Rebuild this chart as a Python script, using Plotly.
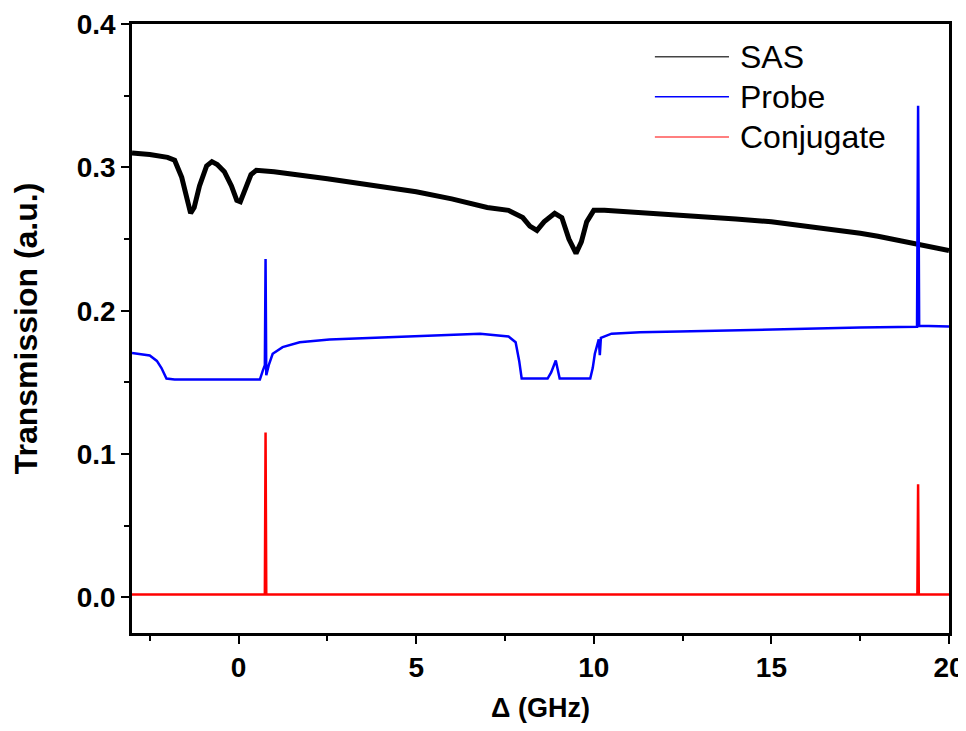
import plotly.graph_objects as go

# ---- data ----
sas_x = [-3.0, -2.5, -2.0, -1.8, -1.6, -1.45, -1.35, -1.25, -1.1, -0.9, -0.75, -0.6,
         -0.4, -0.2, -0.05, 0.05, 0.2, 0.35, 0.5, 1.0, 2.5, 4.0, 5.0, 6.0, 7.0, 7.6,
         8.0, 8.2, 8.4, 8.6, 8.9, 9.1, 9.3, 9.5, 9.65, 9.8, 10.0, 10.3, 11.0, 12.0,
         13.0, 14.0, 15.0, 16.0, 17.0, 17.5, 18.0, 19.0, 20.0]
sas_y = [0.310, 0.309, 0.307, 0.305, 0.293, 0.276, 0.268, 0.272, 0.287, 0.301, 0.304, 0.302,
         0.297, 0.287, 0.277, 0.276, 0.285, 0.295, 0.298, 0.297, 0.292, 0.287, 0.283, 0.278, 0.272, 0.270,
         0.265, 0.259, 0.256, 0.262, 0.268, 0.265, 0.250, 0.240, 0.248, 0.262, 0.270, 0.270, 0.269, 0.267,
         0.266, 0.264, 0.262, 0.259, 0.256, 0.254, 0.252, 0.247, 0.242]

probe_x = [-3.0, -2.5, -2.3, -2.17, -2.03, -1.8, 0.0, 0.6, 0.68, 0.74, 0.76, 0.78, 0.85,
           0.96, 1.24, 1.72, 2.56, 3.97, 5.38, 6.8, 7.6, 7.8, 7.9, 7.97, 8.7, 8.8, 8.93,
           9.04, 9.9, 9.97, 10.03, 10.14, 10.17, 10.2, 10.5, 11.3, 12.4, 15.0, 17.5, 19.1,
           19.13, 19.16, 20.0]
probe_y = [0.1705, 0.1688, 0.165, 0.160, 0.1527, 0.152, 0.152, 0.152, 0.158, 0.162, 0.236, 0.155, 0.162,
           0.170, 0.1746, 0.178, 0.180, 0.1813, 0.1827, 0.184, 0.182, 0.178, 0.165, 0.1527, 0.1527, 0.157, 0.1653,
           0.1527, 0.1527, 0.160, 0.170, 0.180, 0.169, 0.181, 0.184, 0.185, 0.1855, 0.187, 0.1883, 0.1888,
           0.343, 0.1895, 0.189]

conj_x = [-3.0, 0.74, 0.76, 0.78, 19.11, 19.13, 19.15, 20.0]
conj_y = [0.002, 0.002, 0.115, 0.002, 0.002, 0.079, 0.002, 0.002]

series_names = ["SAS", "Probe", "Conjugate"]
series_colors = ["#000000", "#0000FF", "#FF0000"]
legend_colors = ["#444444", "#0000FF", "#FF5555"]

x_ticks = [0, 5, 10, 15, 20]
y_ticks = [0.0, 0.1, 0.2, 0.3, 0.4]

fig = go.Figure()
fig.add_trace(go.Scatter(x=sas_x, y=sas_y, mode="lines", name=series_names[0],
                         line=dict(color=series_colors[0], width=5), showlegend=False))
fig.add_trace(go.Scatter(x=probe_x, y=probe_y, mode="lines", name=series_names[1],
                         line=dict(color=series_colors[1], width=2.5), showlegend=False))
fig.add_trace(go.Scatter(x=conj_x, y=conj_y, mode="lines", name=series_names[2],
                         line=dict(color=series_colors[2], width=2.5), showlegend=False))

# manual legend (line samples + text), top right
leg_y = [0.9463, 0.8806, 0.8144]
for name, col, yy in zip(series_names, legend_colors, leg_y):
    fig.add_shape(type="line", xref="paper", yref="paper", x0=0.640, x1=0.7307, y0=yy, y1=yy,
                  line=dict(color=col, width=1.5))
    fig.add_annotation(x=0.7417, y=yy, xref="paper", yref="paper", text=name, showarrow=False,
                       xanchor="left", yanchor="middle",
                       font=dict(family="Liberation Sans, Arial", size=32, color="#000000"))

tick_font = dict(family="Liberation Sans, Arial", size=28, color="#000000", weight="bold")
xtitle_font = dict(family="Liberation Sans, Arial", size=27, color="#000000", weight="bold")
ytitle_font = dict(family="Liberation Sans, Arial", size=32, color="#000000", weight="bold")

fig.update_layout(
    width=958, height=715,
    margin=dict(l=124, r=17, t=16, b=90),
    paper_bgcolor="white", plot_bgcolor="white",
    xaxis=dict(range=[-3.0, 20.0], tickvals=x_ticks, ticktext=[str(v) for v in x_ticks],
               automargin=False, ticklabeloverflow="allow",
               showgrid=False, zeroline=False, showline=True, linecolor="black", linewidth=2.5,
               mirror=True, ticks="outside", ticklen=8, tickwidth=2, tickcolor="black",
               minor=dict(dtick=2.5, tick0=0, ticks="outside", ticklen=5, tickwidth=2, tickcolor="black"),
               tickfont=tick_font,
               title=dict(text="Δ (GHz)", font=xtitle_font, standoff=22)),
    yaxis=dict(range=[-0.0248, 0.4], tickvals=y_ticks, ticktext=["%.1f" % v for v in y_ticks],
               automargin=False, ticklabeloverflow="allow",
               showgrid=False, zeroline=False, showline=True, linecolor="black", linewidth=2.5,
               mirror=True, ticks="outside", ticklen=8, tickwidth=2, tickcolor="black",
               minor=dict(dtick=0.05, tick0=0, ticks="outside", ticklen=5, tickwidth=2, tickcolor="black"),
               tickfont=tick_font,
               title=dict(text="Transmission (a.u.)", font=ytitle_font, standoff=34)),
)

fig.write_html("out.html")
